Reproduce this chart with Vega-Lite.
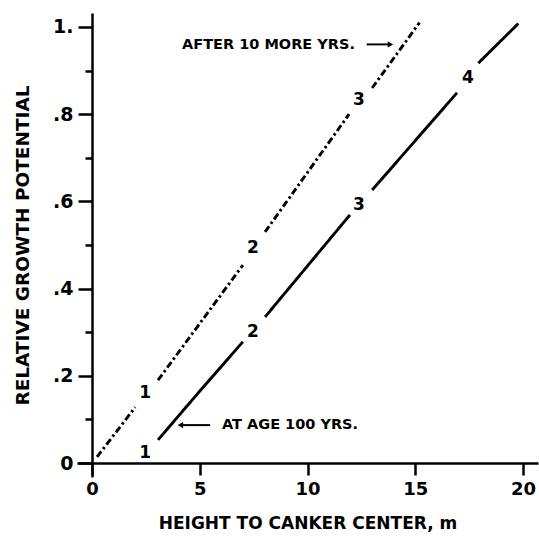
{
  "$schema": "https://vega.github.io/schema/vega-lite/v6.json",
  "width": 461,
  "height": 464,
  "autosize": {"type": "none"},
  "padding": {"left": 77, "top": 13, "right": 1, "bottom": 62},
  "background": "white",
  "config": {"view": {"stroke": null}, "font": "DejaVu Sans"},
  "datasets": {
    "lines": [
      {"curve": "after", "seg": "A1", "x": 0.23, "y": 0.014},
      {"curve": "after", "seg": "A1", "x": 2.0, "y": 0.128},
      {"curve": "after", "seg": "A2", "x": 3.06, "y": 0.19},
      {"curve": "after", "seg": "A2", "x": 7.0, "y": 0.454},
      {"curve": "after", "seg": "A3", "x": 8.03, "y": 0.53},
      {"curve": "after", "seg": "A3", "x": 11.93, "y": 0.8},
      {"curve": "after", "seg": "A4", "x": 13.0, "y": 0.86},
      {"curve": "after", "seg": "A4", "x": 15.2, "y": 1.01},
      {"curve": "age100", "seg": "B1", "x": 3.06, "y": 0.053},
      {"curve": "age100", "seg": "B1", "x": 5.0, "y": 0.165},
      {"curve": "age100", "seg": "B1", "x": 7.0, "y": 0.278},
      {"curve": "age100", "seg": "B2", "x": 8.03, "y": 0.335},
      {"curve": "age100", "seg": "B2", "x": 11.97, "y": 0.569},
      {"curve": "age100", "seg": "B3", "x": 13.0, "y": 0.626},
      {"curve": "age100", "seg": "B3", "x": 16.94, "y": 0.849},
      {"curve": "age100", "seg": "B4", "x": 17.93, "y": 0.917},
      {"curve": "age100", "seg": "B4", "x": 19.79, "y": 1.008}
    ],
    "labels": [
      {"label": "1", "x": 2.46, "y": 0.16},
      {"label": "2", "x": 7.47, "y": 0.493},
      {"label": "3", "x": 12.39, "y": 0.833},
      {"label": "1", "x": 2.46, "y": 0.023},
      {"label": "2", "x": 7.47, "y": 0.3},
      {"label": "3", "x": 12.39, "y": 0.592},
      {"label": "4", "x": 17.45, "y": 0.883}
    ],
    "noteRight": [
      {"text": "AFTER 10 MORE YRS.", "x": 12.2, "y": 0.958}
    ],
    "noteLeft": [
      {"text": "AT AGE 100 YRS.", "x": 6.03, "y": 0.087}
    ],
    "arrows": [
      {"a": "n1", "x": 12.75, "y": 0.96, "x2": 13.75},
      {"a": "n2", "x": 5.48, "y": 0.087, "x2": 4.2}
    ],
    "heads": [
      {"a": "n1", "x": 13.85, "y": 0.96, "dir": "triangle-right"},
      {"a": "n2", "x": 4.1, "y": 0.087, "dir": "triangle-left"}
    ]
  },
  "layer": [
    {
      "data": {"name": "lines"},
      "mark": {"type": "line", "color": "black", "strokeWidth": 2.9, "strokeCap": "butt"},
      "encoding": {
        "x": {
          "field": "x", "type": "quantitative",
          "scale": {"domain": [-0.7, 20.7], "nice": false, "zero": false},
          "axis": {
            "values": [0, 5, 10, 15, 20],
            "offset": -14,
            "grid": false,
            "domainColor": "black", "domainWidth": 2.5,
            "tickColor": "black", "tickWidth": 2.5, "tickSize": 12,
            "labelFontSize": 18, "labelFontWeight": "bold", "labelColor": "black", "labelPadding": 5,
            "labelFont": "DejaVu Sans",
            "title": "HEIGHT TO CANKER CENTER, m",
            "titleFontSize": 17, "titleFontWeight": "bold", "titleColor": "black",
            "titlePadding": 17, "titleFont": "DejaVu Sans"
          }
        },
        "y": {
          "field": "y", "type": "quantitative",
          "scale": {"domain": [-0.032, 1.032], "nice": false, "zero": false},
          "axis": {
            "values": [0, 0.1, 0.2, 0.3, 0.4, 0.5, 0.6, 0.7, 0.8, 0.9, 1.0],
            "offset": -15,
            "grid": false,
            "domainColor": "black", "domainWidth": 2.5,
            "tickColor": "black", "tickWidth": 2.5,
            "tickSize": {"condition": {"test": "round(datum.value*10)%2==0", "value": 14}, "value": 7},
            "labelExpr": "datum.value==0 ? '0' : (abs(datum.value-1)<0.001 ? '1.' : (round(datum.value*10)%2==0 ? replace(format(datum.value,'.1f'),'0.','.') : ''))",
            "labelFontSize": 19, "labelFontWeight": "bold", "labelColor": "black", "labelPadding": 5,
            "labelFont": "DejaVu Sans",
            "title": "RELATIVE GROWTH POTENTIAL",
            "titleFontSize": 18.5, "titleFontWeight": "bold", "titleColor": "black",
            "titlePadding": 20, "titleFont": "DejaVu Sans"
          }
        },
        "detail": {"field": "seg"},
        "strokeDash": {
          "field": "curve", "type": "nominal",
          "scale": {"domain": ["after", "age100"], "range": [[7, 3, 2.5, 3], [1, 0]]},
          "legend": null
        }
      }
    },
    {
      "data": {"name": "labels"},
      "mark": {"type": "text", "fontSize": 17, "fontWeight": "bold", "color": "black", "font": "DejaVu Sans", "baseline": "middle"},
      "encoding": {
        "x": {"field": "x", "type": "quantitative"},
        "y": {"field": "y", "type": "quantitative"},
        "text": {"field": "label"}
      }
    },
    {
      "data": {"name": "noteRight"},
      "mark": {"type": "text", "fontSize": 14.5, "fontWeight": "bold", "color": "black", "font": "DejaVu Sans", "baseline": "middle", "align": "right"},
      "encoding": {
        "x": {"field": "x", "type": "quantitative"},
        "y": {"field": "y", "type": "quantitative"},
        "text": {"field": "text"}
      }
    },
    {
      "data": {"name": "noteLeft"},
      "mark": {"type": "text", "fontSize": 14.5, "fontWeight": "bold", "color": "black", "font": "DejaVu Sans", "baseline": "middle", "align": "left"},
      "encoding": {
        "x": {"field": "x", "type": "quantitative"},
        "y": {"field": "y", "type": "quantitative"},
        "text": {"field": "text"}
      }
    },
    {
      "data": {"name": "arrows"},
      "mark": {"type": "rule", "color": "black", "strokeWidth": 2},
      "encoding": {
        "x": {"field": "x", "type": "quantitative"},
        "x2": {"field": "x2"},
        "y": {"field": "y", "type": "quantitative"}
      }
    },
    {
      "data": {"name": "heads"},
      "mark": {"type": "point", "filled": true, "color": "black", "size": 40, "opacity": 1},
      "encoding": {
        "x": {"field": "x", "type": "quantitative"},
        "y": {"field": "y", "type": "quantitative"},
        "shape": {"field": "dir", "type": "nominal", "scale": null}
      }
    }
  ]
}
